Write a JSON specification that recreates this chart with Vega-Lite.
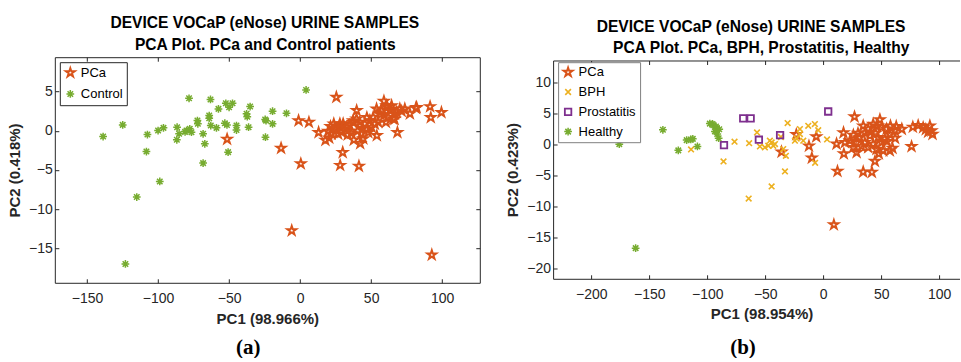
{
  "$schema": "https://vega.github.io/schema/vega-lite/v6.json",
  "padding": {"left": 6.8, "top": 15.2, "right": 0, "bottom": 0},
  "bounds": "flush",
  "spacing": 73.3,
  "resolve": {"scale": {"color": "independent", "shape": "independent", "size": "independent", "strokeWidth": "independent"}, "legend": {"color": "independent", "shape": "independent"}},
  "config": {
    "font": "Liberation Sans",
    "view": {"stroke": null},
    "title": {"font": "Liberation Sans", "fontSize": 15.6, "fontWeight": "bold", "color": "#000000"},
    "axis": {
      "grid": false,
      "domain": true,
      "domainColor": "#262626",
      "tickColor": "#262626",
      "labelColor": "#262626",
      "labelFont": "Liberation Sans",
      "labelFontSize": 14,
      "titleFont": "Liberation Sans",
      "titleFontSize": 15,
      "titleFontWeight": "bold",
      "titleColor": "#262626",
      "tickSize": -4,
      "labelOverlap": false,
      "labelFlush": false
    },
    "legend": {
      "labelFont": "Liberation Sans",
      "labelFontSize": 13,
      "labelColor": "#000000"
    }
  },
  "datasets": {
    "a": [
      {"pc1": -138.7, "pc2": -0.73, "group": "Control"},
      {"pc1": -124.9, "pc2": 0.76, "group": "Control"},
      {"pc1": -107.5, "pc2": -0.47, "group": "Control"},
      {"pc1": -108.2, "pc2": -2.64, "group": "Control"},
      {"pc1": -98.8, "pc2": -6.46, "group": "Control"},
      {"pc1": -115.0, "pc2": -8.45, "group": "Control"},
      {"pc1": -123.0, "pc2": -17.0, "group": "Control"},
      {"pc1": -100.0, "pc2": 0.04, "group": "Control"},
      {"pc1": -96.2, "pc2": 0.38, "group": "Control"},
      {"pc1": -86.6, "pc2": 0.46, "group": "Control"},
      {"pc1": -85.2, "pc2": -0.38, "group": "Control"},
      {"pc1": -86.8, "pc2": -1.15, "group": "Control"},
      {"pc1": -81.0, "pc2": -0.13, "group": "Control"},
      {"pc1": -80.0, "pc2": 0.04, "group": "Control"},
      {"pc1": -77.7, "pc2": 0.25, "group": "Control"},
      {"pc1": -76.5, "pc2": -0.17, "group": "Control"},
      {"pc1": -78.2, "pc2": 4.15, "group": "Control"},
      {"pc1": -72.3, "pc2": 1.31, "group": "Control"},
      {"pc1": -72.0, "pc2": 0.9, "group": "Control"},
      {"pc1": -68.3, "pc2": -0.38, "group": "Control"},
      {"pc1": -67.1, "pc2": -1.66, "group": "Control"},
      {"pc1": -68.3, "pc2": -4.12, "group": "Control"},
      {"pc1": -64.0, "pc2": 1.95, "group": "Control"},
      {"pc1": -64.0, "pc2": 1.6, "group": "Control"},
      {"pc1": -63.1, "pc2": 4.0, "group": "Control"},
      {"pc1": -62.9, "pc2": 0.68, "group": "Control"},
      {"pc1": -58.9, "pc2": 0.38, "group": "Control"},
      {"pc1": -57.5, "pc2": 2.8, "group": "Control"},
      {"pc1": -52.3, "pc2": 3.52, "group": "Control"},
      {"pc1": -50.0, "pc2": 3.0, "group": "Control"},
      {"pc1": -47.6, "pc2": 3.52, "group": "Control"},
      {"pc1": -53.0, "pc2": 0.97, "group": "Control"},
      {"pc1": -51.5, "pc2": 0.75, "group": "Control"},
      {"pc1": -50.7, "pc2": -2.72, "group": "Control"},
      {"pc1": -44.8, "pc2": 0.68, "group": "Control"},
      {"pc1": -44.8, "pc2": 0.1, "group": "Control"},
      {"pc1": -37.7, "pc2": 2.17, "group": "Control"},
      {"pc1": -37.2, "pc2": 1.8, "group": "Control"},
      {"pc1": -35.2, "pc2": 3.1, "group": "Control"},
      {"pc1": -36.3, "pc2": 0.46, "group": "Control"},
      {"pc1": -24.6, "pc2": 1.45, "group": "Control"},
      {"pc1": -24.0, "pc2": 1.3, "group": "Control"},
      {"pc1": -19.4, "pc2": 2.5, "group": "Control"},
      {"pc1": -19.4, "pc2": 0.89, "group": "Control"},
      {"pc1": -24.4, "pc2": -0.81, "group": "Control"},
      {"pc1": -9.6, "pc2": 2.24, "group": "Control"},
      {"pc1": 4.2, "pc2": 5.22, "group": "Control"},
      {"pc1": -51.4, "pc2": -1.06, "group": "PCa"},
      {"pc1": -13.4, "pc2": -2.2, "group": "PCa"},
      {"pc1": -1.1, "pc2": 1.31, "group": "PCa"},
      {"pc1": 6.2, "pc2": 1.1, "group": "PCa"},
      {"pc1": 0.5, "pc2": -4.2, "group": "PCa"},
      {"pc1": -5.9, "pc2": -12.74, "group": "PCa"},
      {"pc1": 92.7, "pc2": -15.84, "group": "PCa"},
      {"pc1": 25.5, "pc2": 4.3, "group": "PCa"},
      {"pc1": 13.0, "pc2": -0.2, "group": "PCa"},
      {"pc1": 17.8, "pc2": -1.2, "group": "PCa"},
      {"pc1": 28.2, "pc2": -4.4, "group": "PCa"},
      {"pc1": 30.0, "pc2": -2.75, "group": "PCa"},
      {"pc1": 41.4, "pc2": -4.5, "group": "PCa"},
      {"pc1": 39.8, "pc2": 2.6, "group": "PCa"},
      {"pc1": 42.3, "pc2": -1.6, "group": "PCa"},
      {"pc1": 44.5, "pc2": -1.0, "group": "PCa"},
      {"pc1": 37.8, "pc2": -1.15, "group": "PCa"},
      {"pc1": 54.0, "pc2": -0.6, "group": "PCa"},
      {"pc1": 59.0, "pc2": 3.8, "group": "PCa"},
      {"pc1": 68.5, "pc2": -0.2, "group": "PCa"},
      {"pc1": 66.5, "pc2": 1.5, "group": "PCa"},
      {"pc1": 81.5, "pc2": 2.9, "group": "PCa"},
      {"pc1": 77.3, "pc2": 2.2, "group": "PCa"},
      {"pc1": 91.5, "pc2": 3.1, "group": "PCa"},
      {"pc1": 92.0, "pc2": 1.7, "group": "PCa"},
      {"pc1": 99.5, "pc2": 2.35, "group": "PCa"},
      {"pc1": 19.7, "pc2": -0.05, "group": "PCa"},
      {"pc1": 21.4, "pc2": 0.55, "group": "PCa"},
      {"pc1": 23.7, "pc2": 0.89, "group": "PCa"},
      {"pc1": 25.1, "pc2": 0.13, "group": "PCa"},
      {"pc1": 27.5, "pc2": 0.55, "group": "PCa"},
      {"pc1": 29.2, "pc2": -0.18, "group": "PCa"},
      {"pc1": 30.3, "pc2": 0.89, "group": "PCa"},
      {"pc1": 22.1, "pc2": -0.38, "group": "PCa"},
      {"pc1": 26.8, "pc2": -0.38, "group": "PCa"},
      {"pc1": 31.5, "pc2": 0.2, "group": "PCa"},
      {"pc1": 24.0, "pc2": 0.3, "group": "PCa"},
      {"pc1": 33.0, "pc2": 0.5, "group": "PCa"},
      {"pc1": 35.0, "pc2": 0.7, "group": "PCa"},
      {"pc1": 37.3, "pc2": 1.06, "group": "PCa"},
      {"pc1": 37.3, "pc2": 1.31, "group": "PCa"},
      {"pc1": 39.7, "pc2": 1.53, "group": "PCa"},
      {"pc1": 42.0, "pc2": 1.1, "group": "PCa"},
      {"pc1": 45.6, "pc2": 0.89, "group": "PCa"},
      {"pc1": 46.8, "pc2": 0.25, "group": "PCa"},
      {"pc1": 49.1, "pc2": 1.31, "group": "PCa"},
      {"pc1": 50.3, "pc2": 0.46, "group": "PCa"},
      {"pc1": 52.6, "pc2": 0.89, "group": "PCa"},
      {"pc1": 51.4, "pc2": 1.74, "group": "PCa"},
      {"pc1": 53.8, "pc2": 2.8, "group": "PCa"},
      {"pc1": 57.3, "pc2": 2.59, "group": "PCa"},
      {"pc1": 60.8, "pc2": 3.22, "group": "PCa"},
      {"pc1": 63.2, "pc2": 2.59, "group": "PCa"},
      {"pc1": 62.0, "pc2": 1.74, "group": "PCa"},
      {"pc1": 64.4, "pc2": 3.22, "group": "PCa"},
      {"pc1": 66.7, "pc2": 2.17, "group": "PCa"},
      {"pc1": 70.2, "pc2": 2.8, "group": "PCa"},
      {"pc1": 73.7, "pc2": 2.8, "group": "PCa"},
      {"pc1": 82.0, "pc2": 3.0, "group": "PCa"},
      {"pc1": 55.0, "pc2": 1.1, "group": "PCa"},
      {"pc1": 65.5, "pc2": 1.53, "group": "PCa"},
      {"pc1": 60.4, "pc2": 1.1, "group": "PCa"},
      {"pc1": 59.0, "pc2": 2.0, "group": "PCa"},
      {"pc1": 47.0, "pc2": 1.7, "group": "PCa"},
      {"pc1": 44.0, "pc2": 0.3, "group": "PCa"},
      {"pc1": 40.5, "pc2": 0.0, "group": "PCa"},
      {"pc1": 36.0, "pc2": -0.3, "group": "PCa"},
      {"pc1": 28.0, "pc2": 0.9, "group": "PCa"},
      {"pc1": 20.5, "pc2": -0.9, "group": "PCa"},
      {"pc1": 33.5, "pc2": -0.5, "group": "PCa"},
      {"pc1": 48.0, "pc2": -0.2, "group": "PCa"},
      {"pc1": 56.5, "pc2": 2.1, "group": "PCa"},
      {"pc1": 68.0, "pc2": 2.4, "group": "PCa"},
      {"pc1": 71.5, "pc2": 2.5, "group": "PCa"},
      {"pc1": 61.5, "pc2": 3.0, "group": "PCa"},
      {"pc1": 43.0, "pc2": -0.4, "group": "PCa"}
    ],
    "b": [
      {"pc1": 9.2, "pc2": -12.9, "group": "PCa"},
      {"pc1": 27.0, "pc2": 4.45, "group": "PCa"},
      {"pc1": -23.2, "pc2": 1.6, "group": "PCa"},
      {"pc1": -35.9, "pc2": -1.2, "group": "PCa"},
      {"pc1": -12.3, "pc2": -0.25, "group": "PCa"},
      {"pc1": -9.8, "pc2": -2.15, "group": "PCa"},
      {"pc1": -6.0, "pc2": 1.25, "group": "PCa"},
      {"pc1": 12.3, "pc2": -4.3, "group": "PCa"},
      {"pc1": 11.5, "pc2": 0.1, "group": "PCa"},
      {"pc1": 17.8, "pc2": -1.5, "group": "PCa"},
      {"pc1": 17.5, "pc2": 1.9, "group": "PCa"},
      {"pc1": 34.5, "pc2": -4.4, "group": "PCa"},
      {"pc1": 42.0, "pc2": -4.45, "group": "PCa"},
      {"pc1": 44.6, "pc2": -2.7, "group": "PCa"},
      {"pc1": 59.8, "pc2": -0.6, "group": "PCa"},
      {"pc1": 76.2, "pc2": -0.32, "group": "PCa"},
      {"pc1": 48.9, "pc2": 4.0, "group": "PCa"},
      {"pc1": 67.8, "pc2": 2.47, "group": "PCa"},
      {"pc1": 77.3, "pc2": 2.8, "group": "PCa"},
      {"pc1": 81.9, "pc2": 3.05, "group": "PCa"},
      {"pc1": 86.2, "pc2": 2.73, "group": "PCa"},
      {"pc1": 92.0, "pc2": 3.0, "group": "PCa"},
      {"pc1": 93.4, "pc2": 2.2, "group": "PCa"},
      {"pc1": 94.3, "pc2": 1.67, "group": "PCa"},
      {"pc1": 34.5, "pc2": 3.0, "group": "PCa"},
      {"pc1": 38.8, "pc2": 2.47, "group": "PCa"},
      {"pc1": 43.1, "pc2": 3.27, "group": "PCa"},
      {"pc1": 46.0, "pc2": 3.0, "group": "PCa"},
      {"pc1": 50.3, "pc2": 2.73, "group": "PCa"},
      {"pc1": 54.7, "pc2": 2.47, "group": "PCa"},
      {"pc1": 57.5, "pc2": 1.67, "group": "PCa"},
      {"pc1": 61.8, "pc2": 2.2, "group": "PCa"},
      {"pc1": 23.0, "pc2": 0.6, "group": "PCa"},
      {"pc1": 28.8, "pc2": 0.32, "group": "PCa"},
      {"pc1": 25.9, "pc2": -0.48, "group": "PCa"},
      {"pc1": 31.6, "pc2": 1.13, "group": "PCa"},
      {"pc1": 35.9, "pc2": 0.32, "group": "PCa"},
      {"pc1": 38.8, "pc2": -0.48, "group": "PCa"},
      {"pc1": 40.3, "pc2": 1.4, "group": "PCa"},
      {"pc1": 43.1, "pc2": 0.06, "group": "PCa"},
      {"pc1": 47.4, "pc2": 1.13, "group": "PCa"},
      {"pc1": 50.3, "pc2": 0.32, "group": "PCa"},
      {"pc1": 53.2, "pc2": 0.87, "group": "PCa"},
      {"pc1": 46.0, "pc2": -0.74, "group": "PCa"},
      {"pc1": 51.7, "pc2": -1.0, "group": "PCa"},
      {"pc1": 28.8, "pc2": -1.29, "group": "PCa"},
      {"pc1": 18.7, "pc2": 0.32, "group": "PCa"},
      {"pc1": 57.5, "pc2": -1.0, "group": "PCa"},
      {"pc1": 30.0, "pc2": 1.8, "group": "PCa"},
      {"pc1": 36.0, "pc2": 1.9, "group": "PCa"},
      {"pc1": 41.0, "pc2": 2.0, "group": "PCa"},
      {"pc1": 55.0, "pc2": 0.5, "group": "PCa"},
      {"pc1": 48.0, "pc2": -1.5, "group": "PCa"},
      {"pc1": 33.0, "pc2": -0.3, "group": "PCa"},
      {"pc1": 45.0, "pc2": 1.8, "group": "PCa"},
      {"pc1": 26.0, "pc2": 1.5, "group": "PCa"},
      {"pc1": 62.0, "pc2": 1.0, "group": "PCa"},
      {"pc1": 58.0, "pc2": 3.0, "group": "PCa"},
      {"pc1": 63.0, "pc2": 2.9, "group": "PCa"},
      {"pc1": 88.5, "pc2": 2.4, "group": "PCa"},
      {"pc1": 90.5, "pc2": 2.0, "group": "PCa"},
      {"pc1": -114.0, "pc2": -0.8, "group": "BPH"},
      {"pc1": -86.0, "pc2": -2.73, "group": "BPH"},
      {"pc1": -76.5, "pc2": 0.45, "group": "BPH"},
      {"pc1": -63.9, "pc2": 0.2, "group": "BPH"},
      {"pc1": -64.3, "pc2": -8.7, "group": "BPH"},
      {"pc1": -57.1, "pc2": 1.93, "group": "BPH"},
      {"pc1": -54.6, "pc2": -0.32, "group": "BPH"},
      {"pc1": -50.3, "pc2": -0.48, "group": "BPH"},
      {"pc1": -46.0, "pc2": 0.6, "group": "BPH"},
      {"pc1": -44.5, "pc2": 0.32, "group": "BPH"},
      {"pc1": -43.1, "pc2": -0.21, "group": "BPH"},
      {"pc1": -41.6, "pc2": 0.06, "group": "BPH"},
      {"pc1": -47.4, "pc2": -0.21, "group": "BPH"},
      {"pc1": -44.5, "pc2": -6.75, "group": "BPH"},
      {"pc1": -33.0, "pc2": -4.34, "group": "BPH"},
      {"pc1": -34.5, "pc2": -0.74, "group": "BPH"},
      {"pc1": -32.2, "pc2": -1.82, "group": "BPH"},
      {"pc1": -30.7, "pc2": 3.44, "group": "BPH"},
      {"pc1": -24.4, "pc2": 0.6, "group": "BPH"},
      {"pc1": -22.9, "pc2": 0.96, "group": "BPH"},
      {"pc1": -20.1, "pc2": 2.47, "group": "BPH"},
      {"pc1": -20.1, "pc2": 1.67, "group": "BPH"},
      {"pc1": -17.2, "pc2": 0.6, "group": "BPH"},
      {"pc1": -12.9, "pc2": 3.0, "group": "BPH"},
      {"pc1": -7.2, "pc2": 3.28, "group": "BPH"},
      {"pc1": -4.3, "pc2": 2.3, "group": "BPH"},
      {"pc1": -7.0, "pc2": -2.95, "group": "BPH"},
      {"pc1": 3.3, "pc2": 0.8, "group": "BPH"},
      {"pc1": -36.5, "pc2": 1.2, "group": "BPH"},
      {"pc1": -85.6, "pc2": -0.1, "group": "Prostatitis"},
      {"pc1": -69.0, "pc2": 4.18, "group": "Prostatitis"},
      {"pc1": -62.6, "pc2": 4.18, "group": "Prostatitis"},
      {"pc1": -55.5, "pc2": 0.76, "group": "Prostatitis"},
      {"pc1": -37.2, "pc2": 1.5, "group": "Prostatitis"},
      {"pc1": 4.3, "pc2": 5.3, "group": "Prostatitis"},
      {"pc1": -175.9, "pc2": 0.05, "group": "Healthy"},
      {"pc1": -161.8, "pc2": -16.67, "group": "Healthy"},
      {"pc1": -138.3, "pc2": 2.36, "group": "Healthy"},
      {"pc1": -125.0, "pc2": -0.95, "group": "Healthy"},
      {"pc1": -117.8, "pc2": 0.7, "group": "Healthy"},
      {"pc1": -114.2, "pc2": 0.8, "group": "Healthy"},
      {"pc1": -112.5, "pc2": 0.9, "group": "Healthy"},
      {"pc1": -108.5, "pc2": -0.32, "group": "Healthy"},
      {"pc1": -97.8, "pc2": 3.35, "group": "Healthy"},
      {"pc1": -95.5, "pc2": 3.3, "group": "Healthy"},
      {"pc1": -94.8, "pc2": 3.1, "group": "Healthy"},
      {"pc1": -92.5, "pc2": 2.9, "group": "Healthy"},
      {"pc1": -91.9, "pc2": 2.6, "group": "Healthy"},
      {"pc1": -89.7, "pc2": 2.45, "group": "Healthy"},
      {"pc1": -93.4, "pc2": 2.1, "group": "Healthy"},
      {"pc1": -91.4, "pc2": 1.67, "group": "Healthy"},
      {"pc1": -90.2, "pc2": 1.0, "group": "Healthy"}
    ]
  },
  "hconcat": [
    {
      "width": 425,
      "height": 225.6,
      "data": {"name": "a"},
      "title": {"text": "DEVICE VOCaP (eNose) URINE SAMPLES", "orient": "top", "frame": "group", "anchor": "middle", "dx": -2.5, "offset": 6.4},
      "layer": [
        {
          "mark": {"type": "point", "filled": false, "opacity": 1},
          "encoding": {
            "x": {"field": "pc1", "type": "quantitative", "scale": {"domain": [-172.7, 126.5], "nice": false, "zero": false},
                  "axis": {"orient": "bottom", "values": [-150, -100, -50, 0, 50, 100], "title": "PC1 (98.966%)", "ticks": false, "tickSize": 0, "labelPadding": 8.8, "titlePadding": 6.3}},
            "y": {"field": "pc2", "type": "quantitative", "scale": {"domain": [-19.4, 9.4], "nice": false, "zero": false},
                  "axis": {"orient": "left", "values": [-15, -10, -5, 0, 5], "title": "PC2 (0.418%)", "ticks": false, "tickSize": 0, "labelPadding": 2.5, "titlePadding": 6}},
            "color": {"field": "group", "type": "nominal", "scale": {"domain": ["PCa", "Control"], "range": ["#D95319", "#77AC30"]},
                      "legend": {"title": null, "orient": "top-left", "offset": 4.5, "padding": 4, "strokeColor": "#262626", "fillColor": "#ffffff", "symbolSize": 100, "symbolStrokeWidth": 1.7, "labelOffset": 4, "rowPadding": 5.3}},
            "shape": {"field": "group", "type": "nominal", "scale": {"domain": ["PCa", "Control"], "range": ["M0,-1L0.2245,-0.309L0.951,-0.309L0.363,0.118L0.588,0.809L0,0.382L-0.588,0.809L-0.363,0.118L-0.951,-0.309L-0.2245,-0.309Z", "M-1,0L1,0M0,-1L0,1M-0.71,-0.71L0.71,0.71M-0.71,0.71L0.71,-0.71"]},
                      "legend": {"title": null, "orient": "top-left", "offset": 4.5, "padding": 4, "strokeColor": "#262626", "fillColor": "#ffffff", "symbolSize": 100, "symbolStrokeWidth": 1.7, "labelOffset": 4, "rowPadding": 5.3}},
            "size": {"field": "group", "type": "nominal", "scale": {"type": "ordinal", "domain": ["PCa", "Control"], "range": [90, 60]}, "legend": null},
            "strokeWidth": {"field": "group", "type": "nominal", "scale": {"type": "ordinal", "domain": ["PCa", "Control"], "range": [1.9, 1.5]}, "legend": null}
          }
        },
        {
          "mark": {"type": "point", "opacity": 0},
          "encoding": {
            "x": {"field": "pc1", "type": "quantitative",
                  "axis": {"orient": "top", "values": [-150, -100, -50, 0, 50, 100], "labels": false, "title": "PCA Plot. PCa and Control patients", "titleFontSize": 15.6, "titlePadding": 4, "titleX": 210, "titleColor": "#000000"}},
            "y": {"field": "pc2", "type": "quantitative",
                  "axis": {"orient": "right", "values": [-15, -10, -5, 0, 5], "labels": false, "title": null}}
          }
        },
        {
          "mark": {"type": "point", "opacity": 0},
          "encoding": {
            "x": {"field": "pc1", "type": "quantitative",
                  "axis": {"orient": "bottom", "values": [-150, -100, -50, 0, 50, 100], "labels": false, "domain": false, "title": "(a)", "titleFont": "Liberation Serif", "titleFontSize": 21, "titleFontWeight": "bold", "titleColor": "#000000", "titleBaseline": "middle", "titlePadding": 64.5, "titleX": 193}},
            "y": {"field": "pc2", "type": "quantitative",
                  "axis": {"orient": "left", "values": [-15, -10, -5, 0, 5], "labels": false, "domain": false, "title": null}}
          }
        }
      ],
      "resolve": {"axis": {"x": "independent", "y": "independent"}}
    },
    {
      "bounds": "flush",
      "spacing": 2.3,
      "vconcat": [
        {"width": 1, "height": 1, "data": {"values": []}, "mark": "point"},
        {
          "width": 406.7,
          "height": 218.3,
          "data": {"name": "b"},
          "title": {"text": "DEVICE VOCaP (eNose) URINE SAMPLES", "orient": "top", "frame": "group", "anchor": "middle", "dx": -5.4, "offset": 5.4},
          "layer": [
            {
              "mark": {"type": "point", "filled": false, "opacity": 1},
              "encoding": {
                "x": {"field": "pc1", "type": "quantitative", "scale": {"domain": [-233, 117.8], "nice": false, "zero": false},
                      "axis": {"orient": "bottom", "values": [-200, -150, -100, -50, 0, 50, 100], "title": "PC1 (98.954%)", "ticks": false, "tickSize": 0, "labelPadding": 8.8, "titlePadding": 5.3, "titleX": 208.4}},
                "y": {"field": "pc2", "type": "quantitative", "scale": {"domain": [-21.6, 13.5], "nice": false, "zero": false},
                      "axis": {"orient": "left", "values": [-20, -15, -10, -5, 0, 5, 10], "title": "PC2 (0.423%)", "ticks": false, "tickSize": 0, "labelPadding": 2.5, "titlePadding": 6}},
                "color": {"field": "group", "type": "nominal", "scale": {"domain": ["PCa", "BPH", "Prostatitis", "Healthy"], "range": ["#D95319", "#EDB120", "#7E2F8E", "#77AC30"]},
                          "legend": {"title": null, "orient": "top-left", "offset": 4.5, "padding": 3.5, "strokeColor": "#7f7f7f", "fillColor": "#ffffff", "symbolSize": 100, "symbolStrokeWidth": 1.7, "labelOffset": 4, "rowPadding": 4.8}},
                "shape": {"field": "group", "type": "nominal", "scale": {"domain": ["PCa", "BPH", "Prostatitis", "Healthy"], "range": ["M0,-1L0.2245,-0.309L0.951,-0.309L0.363,0.118L0.588,0.809L0,0.382L-0.588,0.809L-0.363,0.118L-0.951,-0.309L-0.2245,-0.309Z", "M-1,-1L1,1M-1,1L1,-1", "square", "M-1,0L1,0M0,-1L0,1M-0.71,-0.71L0.71,0.71M-0.71,0.71L0.71,-0.71"]},
                          "legend": {"title": null, "orient": "top-left", "offset": 4.5, "padding": 3.5, "strokeColor": "#7f7f7f", "fillColor": "#ffffff", "symbolSize": 100, "symbolStrokeWidth": 1.7, "labelOffset": 4, "rowPadding": 4.8}},
                "size": {"field": "group", "type": "nominal", "scale": {"type": "ordinal", "domain": ["PCa", "BPH", "Prostatitis", "Healthy"], "range": [90, 32, 42, 60]}, "legend": null},
                "strokeWidth": {"field": "group", "type": "nominal", "scale": {"type": "ordinal", "domain": ["PCa", "BPH", "Prostatitis", "Healthy"], "range": [1.9, 1.6, 1.8, 1.5]}, "legend": null}
              }
            },
            {
              "mark": {"type": "point", "opacity": 0},
              "encoding": {
                "x": {"field": "pc1", "type": "quantitative",
                      "axis": {"orient": "top", "values": [-200, -150, -100, -50, 0, 50, 100], "labels": false, "title": "PCA Plot. PCa, BPH, Prostatitis, Healthy", "titleFontSize": 15.6, "titlePadding": 4, "titleX": 207.7, "titleColor": "#000000"}}
              }
            },
            {
              "mark": {"type": "point", "opacity": 0},
              "encoding": {
                "x": {"field": "pc1", "type": "quantitative",
                      "axis": {"orient": "bottom", "values": [-200, -150, -100, -50, 0, 50, 100], "labels": false, "domain": false, "title": "(b)", "titleFont": "Liberation Serif", "titleFontSize": 21, "titleFontWeight": "bold", "titleColor": "#000000", "titleBaseline": "middle", "titlePadding": 68.5, "titleX": 189.4}},
                "y": {"field": "pc2", "type": "quantitative",
                      "axis": {"orient": "left", "values": [-20, -15, -10, -5, 0, 5, 10], "labels": false, "domain": false, "title": null}}
              }
            }
          ],
          "resolve": {"axis": {"x": "independent", "y": "independent"}}
        }
      ]
    }
  ]
}
